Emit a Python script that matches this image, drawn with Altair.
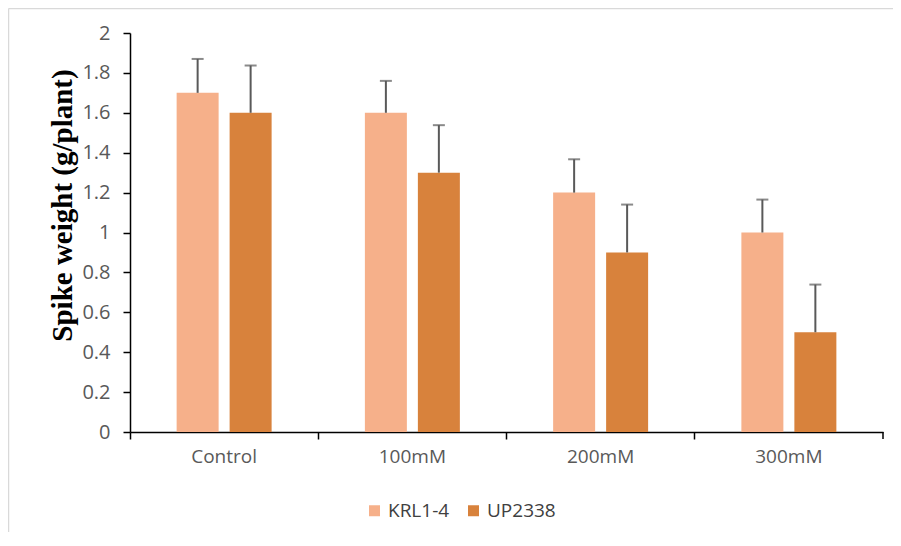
import altair as alt
import pandas as pd

groups = ["Control", "100mM", "200mM", "300mM"]
series = ["KRL1-4", "UP2338"]
krl = [1.7, 1.6, 1.2, 1.0]
up = [1.6, 1.3, 0.9, 0.5]
krl_err = [0.17, 0.16, 0.167, 0.165]
up_err = [0.237, 0.238, 0.24, 0.239]
y_ticks = [0, 0.2, 0.4, 0.6, 0.8, 1.0, 1.2, 1.4, 1.6, 1.8, 2.0]
colors = ["#F6B08A", "#D8823C"]

rows = []
for g, v, e in zip(groups, krl, krl_err):
    rows.append({"group": g, "series": series[0], "value": v, "top": v + e})
for g, v, e in zip(groups, up, up_err):
    rows.append({"group": g, "series": series[1], "value": v, "top": v + e})
df = pd.DataFrame(rows)

W, H = 753, 399
LABEL_FONT = "Open Sans"

yscale = alt.Scale(domain=[0, 2], nice=False, zero=True)
xscale = alt.Scale(paddingInner=0, paddingOuter=0)
xoscale = alt.Scale(paddingInner=0.2075, paddingOuter=0.88)

x_axis = alt.Axis(bandPosition=0, labelAngle=0, domainColor="black", domainWidth=1.5,
                  tickColor="black", tickWidth=1.5, tickSize=7,
                  labelFont=LABEL_FONT, labelFontSize=19, labelColor="#595959",
                  labelPadding=8, labelBaseline="top", labelAlign="center")
y_axis = alt.Axis(values=y_ticks, format=".1~f", grid=False, labelOverlap=False,
                  domainColor="black", domainWidth=1.5,
                  tickColor="black", tickWidth=1.5, tickSize=7,
                  labelFont=LABEL_FONT, labelFontSize=20, labelColor="#595959",
                  labelPadding=13,
                  title="Spike weight (g/plant)", titleFont="Liberation Serif",
                  titleFontSize=29, titleFontWeight="bold", titleColor="black",
                  titleAngle=-90, titleX=-59, titleY=172, titleAlign="center",
                  titleBaseline="alphabetic")

x = alt.X("group:N", sort=groups, title=None, scale=xscale, axis=x_axis)
xo = alt.XOffset("series:N", sort=series, scale=xoscale)

color = alt.Color("series:N", sort=series,
                  scale=alt.Scale(domain=series, range=colors),
                  legend=alt.Legend(title=None, orient="none", direction="horizontal",
                                    legendX=235, legendY=468, symbolType="square",
                                    symbolSize=121, symbolStrokeWidth=0, labelOffset=4,
                                    columnPadding=14, labelFont=LABEL_FONT,
                                    labelFontSize=19, labelColor="#404040", padding=0))

base = alt.Chart(df)

bars = base.mark_bar().encode(
    x=x, xOffset=xo,
    y=alt.Y("value:Q", scale=yscale, axis=y_axis, title="Spike weight (g/plant)"),
    color=color)

err_rule = base.mark_rule(color="#595959", strokeWidth=2).encode(
    x=x, xOffset=xo,
    y=alt.Y("value:Q", scale=yscale, axis=y_axis, title="Spike weight (g/plant)"),
    y2="top:Q")

err_cap = base.mark_tick(color="#595959", thickness=2, size=12).encode(
    x=x, xOffset=xo,
    y=alt.Y("top:Q", scale=yscale, axis=y_axis, title="Spike weight (g/plant)"))

one = pd.DataFrame({"d": [0]})
end_tick = alt.Chart(one).mark_rule(color="black", strokeWidth=1.5).encode(
    x=alt.value(W), y=alt.value(H), y2=alt.value(H + 7))

border_top = alt.Chart(one).mark_rule(color="#D9D9D9", strokeWidth=1.5).encode(
    x=alt.value(-121.5), x2=alt.value(W + 20), y=alt.value(-24.5))
border_left = alt.Chart(one).mark_rule(color="#D9D9D9", strokeWidth=1.5).encode(
    x=alt.value(-121.5), y=alt.value(-24.5), y2=alt.value(H + 120))

chart = alt.layer(border_top, border_left, bars, err_rule, err_cap, end_tick).properties(
    width=W, height=H,
    autosize=alt.AutoSizeParams(type="none"),
    padding={"left": 122, "top": 25, "right": 10, "bottom": 100},
).configure(background="white", view=alt.ViewConfig(stroke=None))

chart.save("out.html", embed_options={"renderer": "svg", "actions": False})
